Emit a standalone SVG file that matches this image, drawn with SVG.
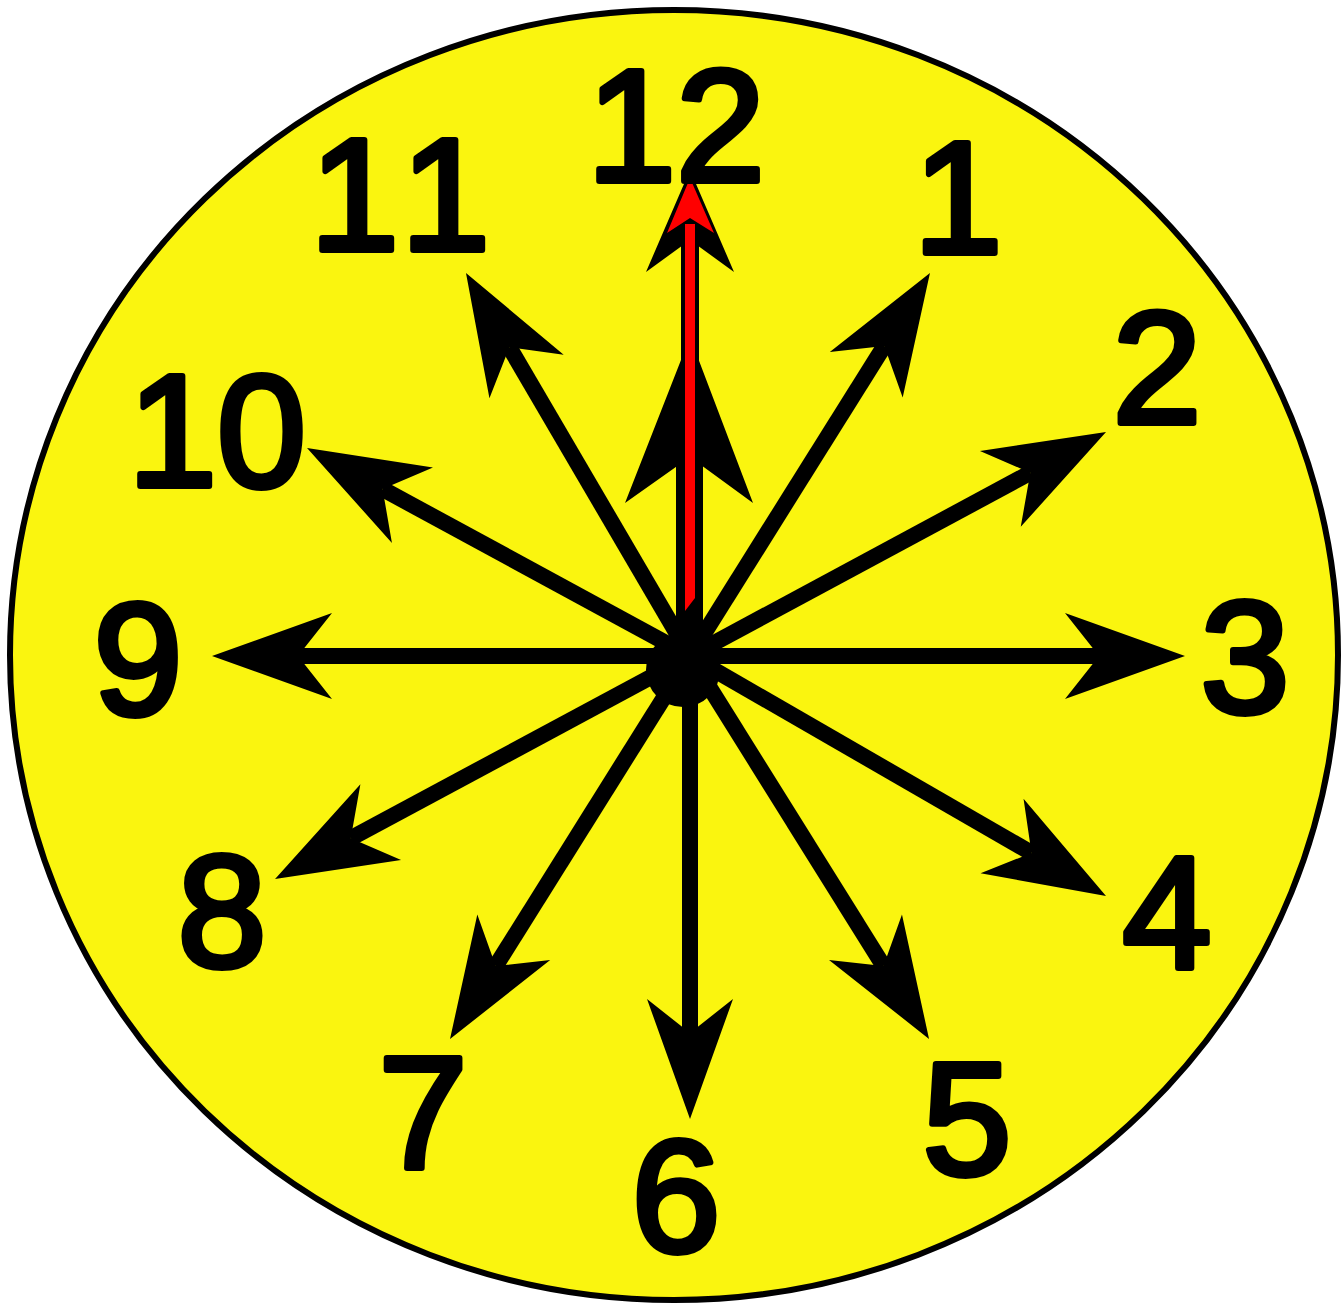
<svg xmlns="http://www.w3.org/2000/svg" width="1342" height="1303" viewBox="0 0 1342 1303">
  <style>
    .num { font-family: "Liberation Sans", Arial, sans-serif; font-weight: normal; font-size: 160px; fill: #000; stroke: #000; stroke-width: 6; stroke-linejoin: round; text-anchor: middle; }
    .ray { stroke: #000; stroke-width: 16; fill: none; marker-end: url(#head); }
  </style>
  <defs>
    <marker id="head" markerUnits="userSpaceOnUse" orient="auto" refX="0" refY="0" markerWidth="130" markerHeight="100" overflow="visible">
      <path d="M-34,-43 L86,0 L-34,43 L0,0 Z" fill="#000"/>
    </marker>
  </defs>
  <rect width="1342" height="1303" fill="#fff"/>
  <g id="face">
    <ellipse cx="674" cy="655" rx="664" ry="645" fill="#FAF50F" stroke="#000" stroke-width="6"/>
  </g>
  <g id="connectors">
    <line class="ray" x1="690" y1="656" x2="884.3" y2="345.9"/>
    <line class="ray" x1="690" y1="656" x2="1030.3" y2="472.8"/>
    <line class="ray" x1="690" y1="656" x2="1099" y2="656"/>
    <line class="ray" x1="690" y1="656" x2="1031.5" y2="853.0"/>
    <line class="ray" x1="690" y1="656" x2="883.5" y2="966.0"/>
    <line class="ray" x1="690" y1="656" x2="690" y2="1033"/>
    <line class="ray" x1="690" y1="656" x2="495.7" y2="966.1"/>
    <line class="ray" x1="690" y1="656" x2="350.8" y2="838.3"/>
    <line class="ray" x1="690" y1="656" x2="298" y2="656"/>
    <line class="ray" x1="690" y1="656" x2="382.6" y2="489.0"/>
    <line class="ray" x1="690" y1="656" x2="509.4" y2="347.2"/>
    <g id="hand12">
      <rect x="676" y="457" width="27" height="205" fill="#000"/>
      <rect x="681" y="240" width="18" height="220" fill="#000"/>
      <path d="M690,337 L753,503 L690,457 L625,503 Z" fill="#000"/>
      <path d="M690,170 L734,272 L690,240 L646,272 Z" fill="#000"/>
      <path d="M690,178 L714,233 L690,218 L667,233 Z" fill="#FF0000"/>
      <path d="M685,224 L695,224 L695,598 L685,611 Z" fill="#FF0000"/>
    </g>
  </g>
  <g id="hub">
    <circle cx="683" cy="670" r="37" fill="#000"/>
  </g>
  <g id="n12"><text class="num" x="676" y="181">12</text></g>
  <g id="n1"><text class="num" x="958" y="253">1</text></g>
  <g id="n2"><text class="num" x="1157" y="423">2</text></g>
  <g id="n3"><text class="num" x="1245" y="712">3</text></g>
  <g id="n4"><text class="num" x="1167" y="968">4</text></g>
  <g id="n5"><text class="num" x="967" y="1174">5</text></g>
  <g id="n6"><text class="num" x="676" y="1251">6</text></g>
  <g id="n7"><text class="num" x="423" y="1168">7</text></g>
  <g id="n8"><text class="num" x="222" y="966">8</text></g>
  <g id="n9"><text class="num" x="138" y="714">9</text></g>
  <g id="n10"><text class="num" x="217" y="486">10</text></g>
  <g id="n11"><text class="num" x="400" y="250">1<tspan dx="14">1</tspan></text></g>
</svg>
